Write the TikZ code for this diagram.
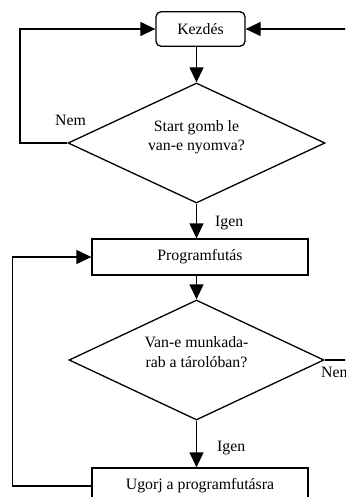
\documentclass[tikz,border=0pt]{standalone}
\usepackage{fontspec}
\setmainfont{Liberation Serif}
\usetikzlibrary{arrows.meta,shapes.geometric}
\tikzset{
  txt/.style={font=\fontsize{15.8}{19.3}\selectfont, inner sep=0pt, align=center},
  boxn/.style={draw, line width=1.3pt, rectangle, txt},
  dia/.style={draw, line width=1.3pt, diamond, inner sep=0pt},
  arr/.style={line width=1.3pt, -{Triangle[length=15pt,width=14pt]}},
  ln/.style={line width=1.3pt},
}
\begin{document}
\begin{tikzpicture}[x=1pt,y=-1pt]
\useasboundingbox (0,0) rectangle (345,497);
\clip (0,0) rectangle (345,497);
\node[boxn, rounded corners=5pt, minimum width=89pt, minimum height=34.5pt] (kezd) at (200.5,29) {Kezdés};
\node[dia, minimum width=257pt, minimum height=120pt] (d1) at (196.5,143) {};
\node[txt] (d1t) at (196.5,137) {Start gomb le\\van-e nyomva?};
\node[boxn, minimum width=216pt, minimum height=36pt] (prog) at (200,257) {Programfutás};
\node[dia, minimum width=255pt, minimum height=120pt] (d2) at (196.5,360) {};
\node[txt] (d2t) at (196.5,352) {Van-e munkada-\\rab a tárolóban?};
\node[boxn, minimum width=216pt, minimum height=36pt] (ugorj) at (200,486) {Ugorj a programfutásra};
\coordinate (cl) at (20,0);
\coordinate (cr) at (350,29);
\coordinate (cr2) at (350,360);
\coordinate (ll) at (12.5,0);
\draw[arr] (kezd.south -| d1.north) -- (d1.north);
\draw[arr] (d1.south) -- (prog.north -| d1.south);
\draw[arr] (prog.south -| d2.north) -- (d2.north);
\draw[arr] (d2.south) -- (ugorj.north -| d2.south);
\draw[arr] (d1.west) -| (cl |- kezd.west) -- (kezd.west);
\draw[arr] (cr) -- (kezd.east);
\draw[ln] (d2.east) -- (cr2);
\draw[arr] (ugorj.west) -| (ll |- prog.west) -- (prog.west);
\node[txt, anchor=base west] (n1) at (55,126) {Nem};
\node[txt, anchor=base west] (i1) at (215,226) {Igen};
\node[txt, anchor=base west] (i2) at (217,451) {Igen};
\node[txt, anchor=base west] (n2) at (321,377) {Nem};
\end{tikzpicture}
\end{document}
